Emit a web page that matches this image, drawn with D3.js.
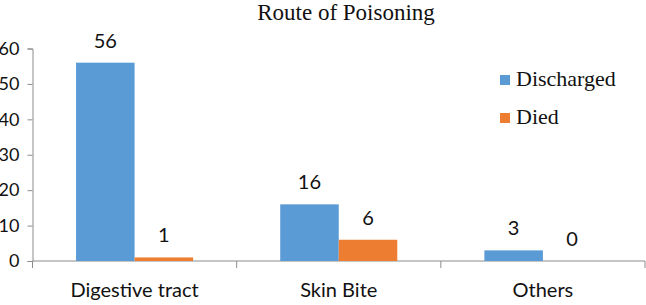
<!DOCTYPE html>
<html>
<head>
<meta charset="utf-8">
<script src="https://cdn.jsdelivr.net/npm/d3@7"></script>
<style>
  body { margin: 0; background: #fff; }
  svg { display: block; }
</style>
</head>
<body>
<svg id="chart"></svg>
<script>
// chart values
const categories = ["Digestive tract", "Skin Bite", "Others"];
const seriesNames = ["Discharged", "Died"];
const discharged = [56, 16, 3];
const died = [1, 6, 0];
const yTicks = [0, 10, 20, 30, 40, 50, 60];
const title = "Route of Poisoning";

const colors = { Discharged: "#5B9BD5", Died: "#ED7D31" };

const width = 646, height = 305;
const margin = { top: 48.5, left: 32.5, right: 1, bottom: 44 };

const svg = d3.select("#chart")
    .attr("width", width)
    .attr("height", height);

// scales
const x = d3.scaleBand()
    .domain(categories)
    .range([margin.left, width - margin.right])
    .paddingInner(0)
    .paddingOuter(0);

const xInner = d3.scaleBand()
    .domain(seriesNames)
    .range([0, x.bandwidth()])
    .paddingInner(0)
    .paddingOuter(0.744);

const y = d3.scaleLinear()
    .domain([0, 60])
    .range([height - margin.bottom, margin.top]);

const rows = categories.map((c, i) => ({
    cat: c,
    vals: [
        { name: "Discharged", value: discharged[i] },
        { name: "Died", value: died[i] }
    ]
}));

const axisColor = "#8c8c8c";
const sans = "Lato, 'Open Sans', sans-serif";
const serif = "'Liberation Serif', 'Times New Roman', serif";

// y axis
const yAxis = d3.axisLeft(y)
    .tickValues(yTicks)
    .tickSize(5)
    .tickPadding(8);

const yg = svg.append("g")
    .attr("transform", `translate(${margin.left},0)`)
    .call(yAxis);
yg.select(".domain").attr("stroke", axisColor);
yg.selectAll(".tick line").attr("stroke", axisColor);
yg.selectAll(".tick text")
    .attr("font-family", sans)
    .attr("font-size", 18)
    .attr("fill", "#111");

// x axis: line plus ticks at category edges
const baseY = y(0);
svg.append("line")
    .attr("x1", margin.left).attr("x2", width - margin.right)
    .attr("y1", baseY).attr("y2", baseY)
    .attr("stroke", axisColor);

const edges = categories.map(c => x(c)).concat([x(categories[categories.length - 1]) + x.bandwidth()]);
svg.selectAll(".xtick")
    .data(edges)
    .enter()
    .append("line")
    .attr("class", "xtick")
    .attr("x1", d => d).attr("x2", d => d)
    .attr("y1", baseY).attr("y2", baseY + 7)
    .attr("stroke", axisColor);

svg.selectAll(".xlabel")
    .data(categories)
    .enter()
    .append("text")
    .attr("class", "xlabel")
    .attr("x", d => x(d) + x.bandwidth() / 2)
    .attr("y", 297)
    .attr("text-anchor", "middle")
    .attr("font-family", sans)
    .attr("font-size", 20)
    .attr("fill", "#111")
    .text(d => d);

// bars
const groups = svg.selectAll(".grp")
    .data(rows)
    .enter()
    .append("g")
    .attr("class", "grp")
    .attr("transform", d => `translate(${x(d.cat)},0)`);

groups.selectAll("rect")
    .data(d => d.vals)
    .enter()
    .append("rect")
    .attr("x", d => xInner(d.name))
    .attr("y", d => y(d.value))
    .attr("width", xInner.bandwidth())
    .attr("height", d => y(0) - y(d.value))
    .attr("fill", d => colors[d.name]);

// value labels
groups.selectAll(".val")
    .data(d => d.vals)
    .enter()
    .append("text")
    .attr("class", "val")
    .attr("x", d => xInner(d.name) + xInner.bandwidth() / 2)
    .attr("y", d => y(d.value) - 15)
    .attr("text-anchor", "middle")
    .attr("font-family", sans)
    .attr("font-size", 20)
    .attr("fill", "#111")
    .text(d => d.value);

// title
svg.append("text")
    .attr("x", 346)
    .attr("y", 20)
    .attr("text-anchor", "middle")
    .attr("font-family", serif)
    .attr("font-size", 23)
    .attr("fill", "#111")
    .text(title);

// legend
const legend = svg.selectAll(".leg")
    .data(seriesNames)
    .enter()
    .append("g")
    .attr("class", "leg")
    .attr("transform", (d, i) => `translate(500,${75 + i * 38})`);

legend.append("rect")
    .attr("width", 10)
    .attr("height", 10)
    .attr("fill", d => colors[d]);

legend.append("text")
    .attr("x", 16)
    .attr("y", 11)
    .attr("font-family", serif)
    .attr("font-size", 22)
    .attr("fill", "#111")
    .text(d => d);
</script>
</body>
</html>
